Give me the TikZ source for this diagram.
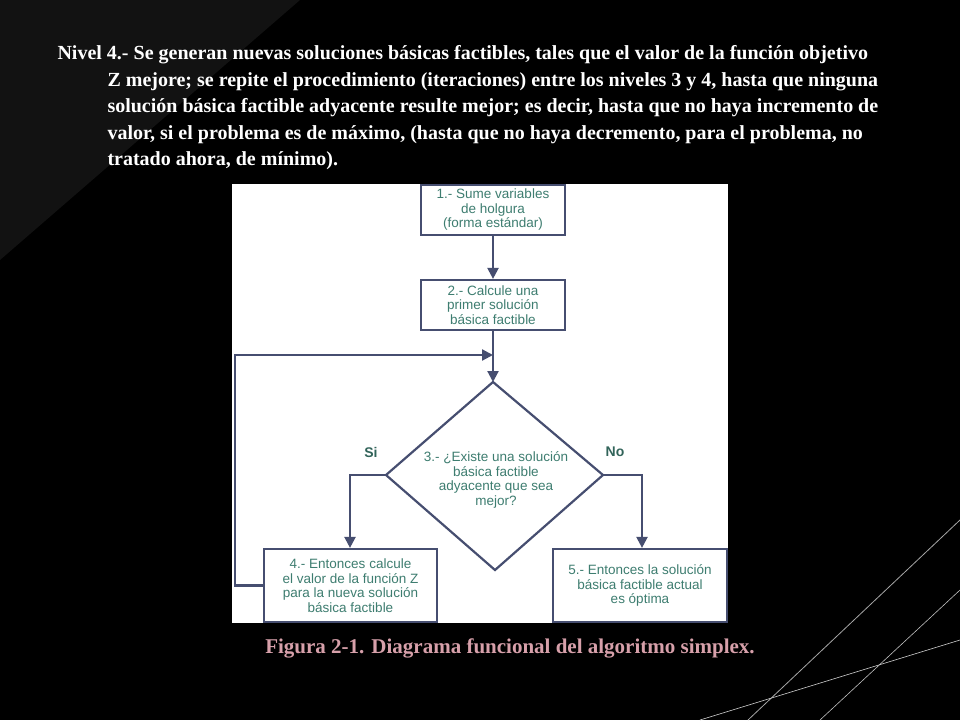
\documentclass[tikz,border=0pt]{standalone}
\usepackage{fontspec}
\setmainfont{Liberation Serif}
\newfontfamily\boxfont{Liberation Sans}
\usetikzlibrary{arrows.meta}
\definecolor{ln}{RGB}{70,78,112}
\definecolor{tx}{RGB}{62,125,112}
\definecolor{cap}{RGB}{215,160,170}
\tikzset{x=1pt,y=-1pt,
 bx/.style={draw=ln,line width=2.2pt,fill=white,text=tx,align=center,font=\boxfont\fontsize{13.5}{14.5}\selectfont,inner sep=0pt},
 cn/.style={draw=ln,line width=2.2pt,-{Triangle[length=11pt,width=11pt]}},
 ttl/.style={text=white,font=\bfseries\fontsize{20}{26.5}\selectfont,anchor=north west,align=left}}
\begin{document}
\begin{tikzpicture}
\useasboundingbox (0,0) rectangle (960,720);
\fill[black] (0,0) rectangle (960,720);
\fill[black!93!white] (0,0) -- (300,0) -- (0,260) -- cycle;
\draw[gray!70,line width=0.8pt] (960,520) -- (748,720);
\draw[gray!50,line width=0.6pt] (960,590) -- (820,720);
\draw[gray!40,line width=0.6pt] (700,720) -- (960,640);
\fill[white] (232,184) rectangle (728,623);
% title
\node[ttl] (t) at (54,42) {Nivel 4.- Se generan nuevas soluciones básicas factibles, tales que el valor de la función objetivo\\
\hspace*{50pt}Z mejore; se repite el procedimiento (iteraciones) entre los niveles 3 y 4, hasta que ninguna\\
\hspace*{50pt}solución básica factible adyacente resulte mejor; es decir, hasta que no haya incremento de\\
\hspace*{50pt}valor, si el problema es de máximo, (hasta que no haya decremento, para el problema, no\\
\hspace*{50pt}tratado ahora, de mínimo).};
\node[bx,minimum width=144pt,minimum height=50pt] (b1) at (493,210) {1.- Sume variables\\de holgura\\(forma estándar)};
\node[bx,minimum width=144pt,minimum height=50pt] (b2) at (493,305) {2.- Calcule una\\primer solución\\básica factible};
\coordinate (j) at (493,355);
\coordinate (dt) at (493,382);
\coordinate (dl) at (386,475);
\coordinate (dr) at (603,475);
\coordinate (db) at (495,570);
\draw[ln,line width=2.2pt,fill=white] (dt) -- (dr) -- (db) -- (dl) -- cycle;
\node[text=tx,align=center,font=\boxfont\fontsize{13.5}{14.5}\selectfont] (d) at (496,480) {3.- ¿Existe una solución\\básica factible\\adyacente que sea\\mejor?};
\node[bx,minimum width=173pt,minimum height=73pt] (b4) at (350.5,585.5) {4.- Entonces calcule\\el valor de la función Z\\para la nueva solución\\básica factible};
\node[bx,minimum width=174pt,minimum height=73pt] (b5) at (640,585.5) {5.- Entonces la solución\\básica factible actual\\es óptima};
\node[text=tx!80!black,font=\boxfont\bfseries\fontsize{14}{14}\selectfont] (si) at (371,452) {Si};
\node[text=tx!80!black,font=\boxfont\bfseries\fontsize{14}{14}\selectfont] (no) at (615,452) {No};
\draw[cn] (b1) -- (b2);
\draw[cn] (b2) -- (dt);
\draw[cn] (dl) -| (b4.north -| 350,0);
\draw[cn] (dr) -| (b5.north -| 642,0);
\draw[cn] (b4.west) -| (235,355) -- (j);
\node[text=cap,font=\bfseries\fontsize{21}{24}\selectfont] (c) at (510,648) {Figura 2-1. Diagrama funcional del algoritmo simplex.};
\end{tikzpicture}
\end{document}
